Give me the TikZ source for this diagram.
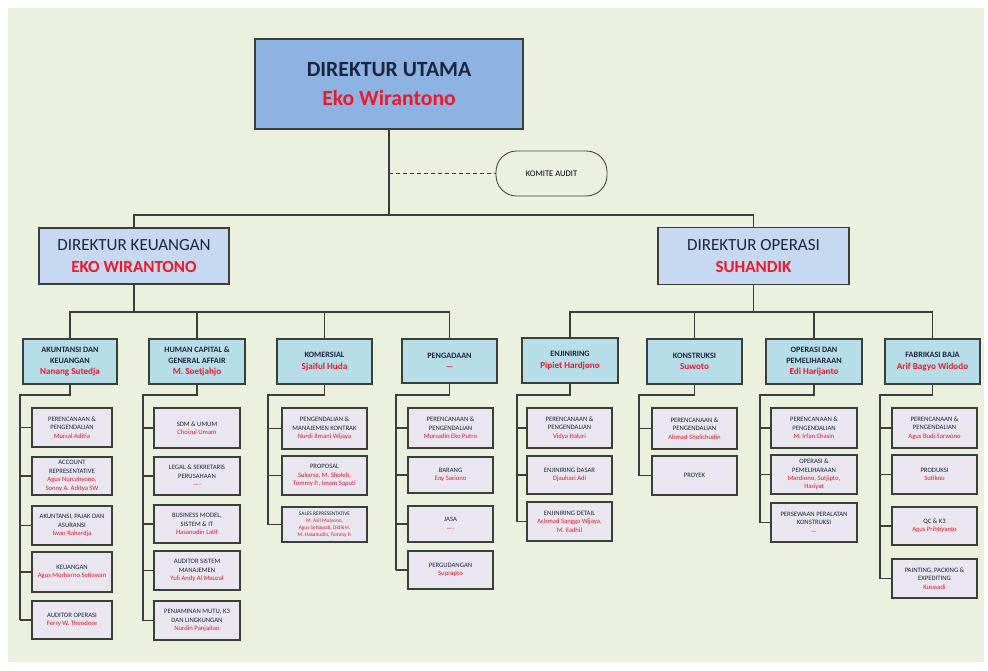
\documentclass[tikz,border=0pt]{standalone}
\usepackage{fontspec}
\setmainfont{Carlito}
\definecolor{bgg}{HTML}{EBF1DE}
\definecolor{duf}{HTML}{8DB3E2}
\definecolor{dirf}{HTML}{C6D9F1}
\definecolor{divf}{HTML}{B7DEE8}
\definecolor{subf}{HTML}{E9E6EF}
\definecolor{edge}{HTML}{3A3F3A}
\definecolor{navy}{HTML}{1B2540}
\definecolor{namered}{HTML}{F0192C}
\newcommand\redname[1]{{\color{namered}#1}}
\tikzset{
  sz/.style 2 args={minimum width=#1*0.03cm, minimum height=#2*0.03cm},
  dubox/.style={draw=edge, fill=duf, line width=1.1pt, inner sep=0pt, align=center, text=navy,
     font=\fontsize{18.5}{24}\selectfont\bfseries},
  dirbox/.style={draw=edge, fill=dirf, line width=1.1pt, inner sep=0pt, align=center, text=navy,
     font=\fontsize{14.5}{19}\selectfont},
  divbox/.style={draw=edge, fill=divf, line width=1.1pt, inner sep=0pt, align=center, text=navy,
     font=\fontsize{7}{9.6}\selectfont\bfseries},
  subbox/.style={draw=edge, fill=subf, line width=1.1pt, inner sep=0pt, align=center, text=navy,
     font=\fontsize{5.7}{7.2}\selectfont},
  komite/.style={draw=edge, fill=bgg, line width=0.7pt, rounded corners=0.62cm, inner sep=0pt,
     align=center, text=black, font=\fontsize{7.3}{9}\selectfont},
  conn/.style={draw=edge, line width=1.3pt},
}
\begin{document}
\begin{tikzpicture}[x=0.03cm,y=-0.03cm]
\useasboundingbox (0,0) rectangle (988,670);
\fill[white] (0,0) rectangle (988,670);
\fill[bgg] (8,8) rectangle (984,662);

% top level
\node[dubox, sz={268}{90}] (du) at (389,84) {DIREKTUR UTAMA\\\redname{Eko Wirantono}};
\node[komite, sz={111}{45}] (ka) at (551.5,173.5) {KOMITE AUDIT};
\node[dirbox, sz={190}{56}] (dk) at (134,256) {DIREKTUR KEUANGAN\\\redname{\bfseries EKO WIRANTONO}};
\node[dirbox, sz={191}{57}] (do) at (753.5,256) {DIREKTUR OPERASI\\\redname{\bfseries SUHANDIK}};

\coordinate (h1) at (389,215);
\draw[conn] (du.south) -- (h1);
\draw[draw=edge, line width=0.7pt, dashed] (du.south |- ka.west) -- (ka.west);
\draw[conn] (dk.north) -- (dk.north |- h1) -- (do.north |- h1) -- (do.north);

% division level
\node[divbox, sz={94}{45}] (akt) at (70,361.5) {AKUNTANSI DAN\\KEUANGAN\\\redname{\fontsize{7.8}{10}\selectfont Nanang Sutedja}};
\node[divbox, sz={96}{45}] (hc) at (197,361.5) {HUMAN CAPITAL \&\\GENERAL AFFAIR\\\redname{\fontsize{7.8}{10}\selectfont M. Soetjahjo}};
\node[divbox, sz={95}{45}] (kom) at (324.5,361.5) {KOMERSIAL\\\redname{\fontsize{7.8}{10}\selectfont Sjaiful Huda}};
\node[divbox, sz={95}{44}] (peng) at (449.5,361) {PENGADAAN\\\redname{---}};
\node[divbox, sz={96}{45}] (enj) at (570,360.5) {ENJINIRING\\\redname{\fontsize{7.8}{10}\selectfont Pipiet Hardjono}};
\node[divbox, sz={95}{45}] (kons) at (694.5,361.5) {KONSTRUKSI\\\redname{\fontsize{7.8}{10}\selectfont Suwoto}};
\node[divbox, sz={96}{45}] (op) at (814,361.5) {OPERASI DAN\\PEMELIHARAAN\\\redname{\fontsize{7.8}{10}\selectfont Edi Harijanto}};
\node[divbox, sz={95}{45}] (fab) at (932.5,361.5) {FABRIKASI BAJA\\\redname{\fontsize{7.8}{10}\selectfont Arif Bagyo Widodo}};

\coordinate (kl) at (134,312);
\coordinate (kr) at (753.5,312);
\draw[conn] (dk.south) -- (kl);
\draw[conn] (akt.north) |- (peng.north |- kl) -- (peng.north);
\draw[conn] (hc.north) -- (hc.north |- kl);
\draw[conn] (kom.north) -- (kom.north |- kl);
\draw[conn] (do.south) -- (kr);
\draw[conn] (enj.north) |- (fab.north |- kr) -- (fab.north);
\draw[conn] (kons.north) -- (kons.north |- kr);
\draw[conn] (op.north) -- (op.north |- kr);

% Akuntansi column
\node[subbox, sz={80}{39}] (a1) at (72,427.5) {PERENCANAAN \&\\PENGENDALIAN\\\redname{Mursal Aditia}};
\node[subbox, sz={80}{38}] (a2) at (72,476) {ACCOUNT\\REPRESENTATIVE\\\redname{Agus Nurcahyono,}\\\redname{Sonny A. Aditya SW}};
\node[subbox, sz={80}{39}] (a3) at (72,525.5) {AKUNTANSI, PAJAK DAN\\ASURANSI\\\redname{Iwan Rahardja}};
\node[subbox, sz={80}{40}] (a4) at (72,572) {KEUANGAN\\\redname{Agus Murharno Setiawan}};
\node[subbox, sz={80}{38}] (a5) at (72,620) {AUDITOR OPERASI\\\redname{Ferry W. Theodore}};
\coordinate (ab) at (20,395);
\draw[conn] (akt.south) |- (ab) -- (ab |- a5.west);
\foreach \c in {a1,a2,a3,a4,a5} \draw[conn] (ab |- \c.west) -- (\c.west);

% Human capital column
\node[subbox, sz={86}{40}] (b1) at (197,428) {SDM \& UMUM\\\redname{Choirul Umam}};
\node[subbox, sz={86}{38}] (b2) at (197,476) {LEGAL \& SEKRETARIS\\PERUSAHAAN\\\redname{----}};
\node[subbox, sz={86}{38}] (b3) at (197,524) {BUSINESS MODEL,\\SISTEM \& IT\\\redname{Hasanudin Latif}};
\node[subbox, sz={86}{39}] (b4) at (197,570.5) {AUDITOR SISTEM\\MANAJEMEN\\\redname{Yuli Andy Al Mauzal}};
\node[subbox, sz={86}{39}] (b5) at (197,620.5) {PENJAMINAN MUTU, K3\\DAN LINGKUNGAN\\\redname{Nurdin Panjaitan}};
\coordinate (bb) at (143,395);
\draw[conn] (hc.south) |- (bb) -- (bb |- b5.west);
\foreach \c in {b1,b2,b3,b4,b5} \draw[conn] (bb |- \c.west) -- (\c.west);

% Komersial column
\node[subbox, sz={85}{41}] (c1) at (324.5,428.5) {PENGENDALIAN \&\\MANAJEMEN KONTRAK\\\redname{Nurdi Ilmani Wijaya}};
\node[subbox, sz={85}{39}] (c2) at (324.5,475.5) {PROPOSAL\\\redname{Sukarsa, M. Sholeh,}\\\redname{Tommy P., Imam Saputi}};
\node[subbox, sz={85}{35}, font=\fontsize{4.6}{5.8}\selectfont] (c3) at (324.5,524.5) {SALES REPRESENTATIVE\\\redname{M. Asil Mulyono,}\\\redname{Agus Setiawati, Didik H,}\\\redname{M. Hasanudin, Tommy P.}};
\coordinate (cb) at (268,395);
\draw[conn] (kom.south) |- (cb) -- (cb |- c3.west);
\foreach \c in {c1,c2,c3} \draw[conn] (cb |- \c.west) -- (\c.west);

% Pengadaan column
\node[subbox, sz={85}{40}] (d1) at (450.5,428) {PERENCANAAN \&\\PENGENDALIAN\\\redname{Mursadin Eko Putro}};
\node[subbox, sz={85}{36}] (d2) at (450.5,475) {BARANG\\\redname{Eny Sariono}};
\node[subbox, sz={85}{36}] (d3) at (450.5,524) {JASA\\\redname{----}};
\node[subbox, sz={85}{38}] (d4) at (450.5,570) {PERGUDANGAN\\\redname{Suprapto}};
\coordinate (db) at (396,395);
\draw[conn] (peng.south) |- (db) -- (db |- d4.west);
\foreach \c in {d1,d2,d3,d4} \draw[conn] (db |- \c.west) -- (\c.west);

% Enjiniring column
\node[subbox, sz={85}{40}] (e1) at (569.5,428) {PERENCANAAN \&\\PENGENDALIAN\\\redname{Vidya Haluri}};
\node[subbox, sz={85}{38}] (e2) at (569.5,475) {ENJINIRING DASAR\\\redname{Djauhari Adi}};
\node[subbox, sz={85}{39}] (e3) at (569.5,521.5) {ENJINIRING DETAIL\\\redname{Achmad Sangga Wijaya,}\\\redname{M. Fadhil}};
\coordinate (eb) at (517,395);
\draw[conn] (enj.south) |- (eb) -- (eb |- e3.west);
\foreach \c in {e1,e2,e3} \draw[conn] (eb |- \c.west) -- (\c.west);

% Konstruksi column
\node[subbox, sz={85}{41}] (f1) at (694.5,428.5) {PERENCANAAN \&\\PENGENDALIAN\\\redname{Ahmad Sholichudin}};
\node[subbox, sz={85}{39}] (f2) at (694.5,475.5) {PROYEK};
\coordinate (fb) at (639,395);
\draw[conn] (kons.south) |- (fb) -- (fb |- f2.west);
\foreach \c in {f1,f2} \draw[conn] (fb |- \c.west) -- (\c.west);

% Operasi column
\node[subbox, sz={86}{40}] (g1) at (814,428) {PERENCANAAN \&\\PENGENDALIAN\\\redname{M. Irfan Chasin}};
\node[subbox, sz={86}{39}] (g2) at (814,474.5) {OPERASI \&\\PEMELIHARAAN\\\redname{Mardiono, Sutjipto,}\\\redname{Hariyat}};
\node[subbox, sz={86}{39}] (g3) at (814,522.5) {PERSEWAAN PERALATAN\\KONSTRUKSI\\\redname{---}};
\coordinate (gb) at (760,395);
\draw[conn] (op.south) |- (gb) -- (gb |- g3.west);
\foreach \c in {g1,g2,g3} \draw[conn] (gb |- \c.west) -- (\c.west);

% Fabrikasi column
\node[subbox, sz={85}{40}] (h1b) at (934.5,428) {PERENCANAAN \&\\PENGENDALIAN\\\redname{Agus Budi Sarwono}};
\node[subbox, sz={85}{39}] (h2b) at (934.5,474.5) {PRODUKSI\\\redname{Sutikno}};
\node[subbox, sz={85}{38}] (h3b) at (934.5,526) {QC \& K3\\\redname{Agus Prihtiyanto}};
\node[subbox, sz={85}{39}] (h4b) at (934.5,578.5) {PAINTING, PACKING \&\\EXPEDITING\\\redname{Kuswadi}};
\coordinate (hb) at (880,395);
\draw[conn] (fab.south) |- (hb) -- (hb |- h4b.west);
\foreach \c in {h1b,h2b,h3b,h4b} \draw[conn] (hb |- \c.west) -- (\c.west);
\end{tikzpicture}
\end{document}
